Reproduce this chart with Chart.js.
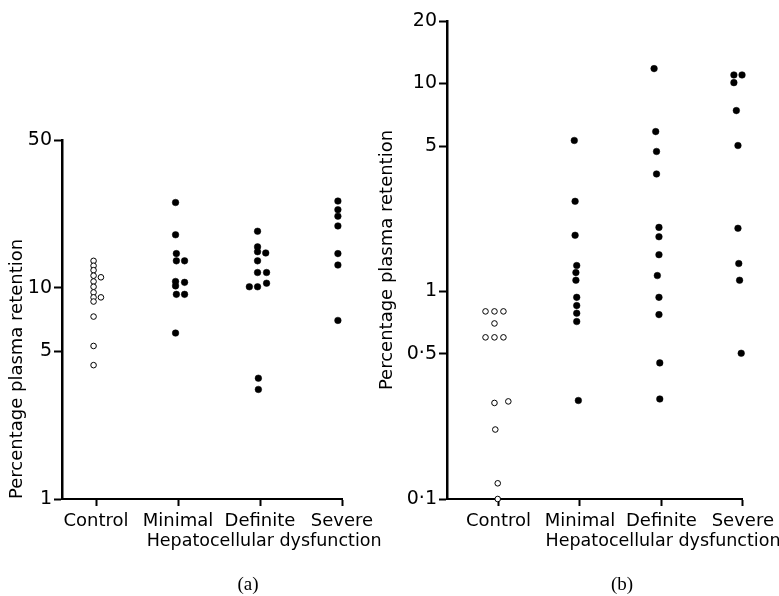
<!DOCTYPE html>
<html>
<head>
<meta charset="utf-8">
<script src="https://cdn.jsdelivr.net/npm/chart.js@4.4.1/dist/chart.umd.min.js"></script>
<style>
  body { margin: 0; background: #fff; }
  #wrap { position: relative; width: 779px; height: 596px; }
  canvas { position: absolute; top: 0; }
  .tag { position: absolute; top: 573px; font: 19px "Liberation Serif", serif; line-height: 22px; transform: translateX(-50%); color: #000; }
</style>
</head>
<body>
<div id="wrap">
  <canvas id="panelA" width="390" height="596" style="left:0"></canvas>
  <canvas id="panelB" width="419" height="596" style="left:360px"></canvas>
  <div class="tag" style="left:248px">(a)</div>
  <div class="tag" style="left:622px">(b)</div>
</div>
<script>
const categories = ['Control', 'Minimal', 'Definite', 'Severe'];
const caption = 'Hepatocellular dysfunction';
const yTitle = 'Percentage plasma retention';
const ticksA = [1, 5, 10, 50];
const ticksB = [0.1, 0.5, 1, 5, 10, 20];

// (a) points as [category position, % retention]
const controlA = [[0.97, 13.4], [0.97, 12.7], [0.97, 12.1], [0.97, 11.4], [0.97, 10.7], [0.97, 10.1], [0.97, 9.5], [0.97, 9.0], [0.97, 8.6], [1.06, 11.2], [1.06, 9.0], [0.97, 7.3], [0.97, 5.3], [0.97, 4.3]];
const minimalA = [[1.97, 25.3], [1.97, 17.8], [1.98, 14.5], [1.98, 13.4], [2.08, 13.4], [1.97, 10.7], [2.08, 10.6], [1.97, 10.2], [1.98, 9.3], [2.08, 9.3], [1.97, 6.1]];
const definiteA = [[2.97, 18.5], [2.97, 15.6], [2.97, 14.8], [3.07, 14.6], [2.97, 13.4], [2.97, 11.8], [3.08, 11.8], [3.08, 10.5], [2.87, 10.1], [2.97, 10.1], [2.98, 3.73], [2.98, 3.3]];
const severeA = [[3.95, 25.7], [3.95, 23.4], [3.95, 21.8], [4.06, 20.4], [3.95, 19.6], [3.95, 14.5], [4.06, 14.1], [3.95, 12.8], [3.95, 7.0]];

// (b)
const controlB = [[0.84, 0.80], [0.95, 0.80], [1.06, 0.80], [0.95, 0.70], [0.84, 0.60], [0.95, 0.60], [1.06, 0.60], [0.95, 0.29], [1.12, 0.295], [0.96, 0.216], [0.99, 0.119], [0.99, 0.1]];
const minimalB = [[1.93, 5.32], [1.94, 2.71], [1.94, 1.86], [1.96, 1.33], [1.95, 1.23], [1.95, 1.13], [1.96, 0.935], [1.96, 0.853], [1.96, 0.784], [1.96, 0.715], [1.98, 0.298]];
const definiteB = [[2.91, 11.8], [2.93, 5.87], [2.94, 4.71], [2.94, 3.67], [2.97, 2.03], [2.97, 1.83], [2.97, 1.5], [2.95, 1.19], [2.97, 0.935], [2.97, 0.772], [2.98, 0.452], [2.98, 0.303]];
const severeB = [[3.89, 11.0], [3.99, 11.0], [3.89, 10.1], [3.92, 7.41], [3.94, 5.03], [3.94, 2.01], [3.95, 1.36], [3.96, 1.13], [3.98, 0.503]];

const FONT = '"DejaVu Sans", sans-serif';

const toXY = pts => pts.map(p => ({ x: p[0], y: p[1] }));

function openSet(pts) {
  return { data: toXY(pts), pointRadius: 2.8, pointBackgroundColor: '#fff', pointBorderColor: '#000', pointBorderWidth: 1, clip: false };
}
function filledSet(pts) {
  return { data: toXY(pts), pointRadius: 3.3, pointBackgroundColor: '#000', pointBorderColor: '#000', pointBorderWidth: 0.5, clip: false };
}

// draws the shared x caption under the category labels
const captionPlugin = {
  id: 'caption',
  afterDraw(chart, args, opts) {
    const ctx = chart.ctx;
    const xs = chart.scales.x;
    ctx.save();
    ctx.font = '17.5px ' + FONT;
    ctx.fillStyle = '#000';
    ctx.textAlign = 'center';
    ctx.textBaseline = 'alphabetic';
    ctx.fillText(opts.text, xs.getPixelForValue(opts.at), chart.chartArea.bottom + 47);
    ctx.restore();
  }
};

function makePanel(id, sets, o) {
  return new Chart(document.getElementById(id), {
    type: 'scatter',
    data: { datasets: sets },
    plugins: [captionPlugin],
    options: {
      responsive: false,
      animation: false,
      events: [],
      layout: { padding: o.padding },
      plugins: {
        legend: { display: false },
        tooltip: { enabled: false },
        caption: { text: caption, at: o.captionAt }
      },
      scales: {
        x: {
          type: 'linear',
          min: o.xMin,
          max: 4,
          afterBuildTicks: s => { s.ticks = categories.map((c, i) => ({ value: i + 1 })); },
          afterFit: s => { s.height = 40; },
          ticks: {
            autoSkip: false, maxRotation: 0, padding: 5, color: '#000',
            font: { family: FONT, size: 18 },
            callback: v => categories[v - 1]
          },
          grid: { drawOnChartArea: false, drawTicks: true, tickLength: 7, tickWidth: 2, tickColor: '#000' },
          border: { display: true, color: '#000', width: 2 }
        },
        y: {
          type: 'logarithmic',
          min: o.yTicks[0],
          max: o.yTicks[o.yTicks.length - 1],
          afterBuildTicks: s => { s.ticks = o.yTicks.map(v => ({ value: v })); },
          afterFit: s => { s.width = o.yWidth; },
          ticks: {
            autoSkip: false, padding: 2, color: '#000',
            font: { family: FONT, size: 19 },
            callback: v => String(v).replace('.', '\u00b7')
          },
          grid: { drawOnChartArea: false, drawTicks: true, tickLength: 8, tickWidth: 2, tickColor: '#000' },
          border: { display: true, color: '#000', width: 2.5 },
          title: {
            display: true, text: yTitle, color: '#000', align: o.titleAlign,
            font: { family: FONT, size: 18 },
            padding: { top: o.titlePad, bottom: 0 }
          }
        }
      }
    }
  });
}

makePanel('panelA', [openSet(controlA), filledSet(minimalA), filledSet(definiteA), filledSet(severeA)], {
  padding: { top: 140, right: 48, bottom: 57, left: 0 },
  xMin: 0.585, yTicks: ticksA, yWidth: 62,
  titleAlign: 'start', titlePad: 7, captionAt: 3.05
});

makePanel('panelB', [openSet(controlB), filledSet(minimalB), filledSet(definiteB), filledSet(severeB)], {
  padding: { top: 21, right: 36, bottom: 57, left: 0 },
  xMin: 0.367, yTicks: ticksB, yWidth: 87,
  titleAlign: 'center', titlePad: 17, captionAt: 3.02
});
</script>
</body>
</html>
